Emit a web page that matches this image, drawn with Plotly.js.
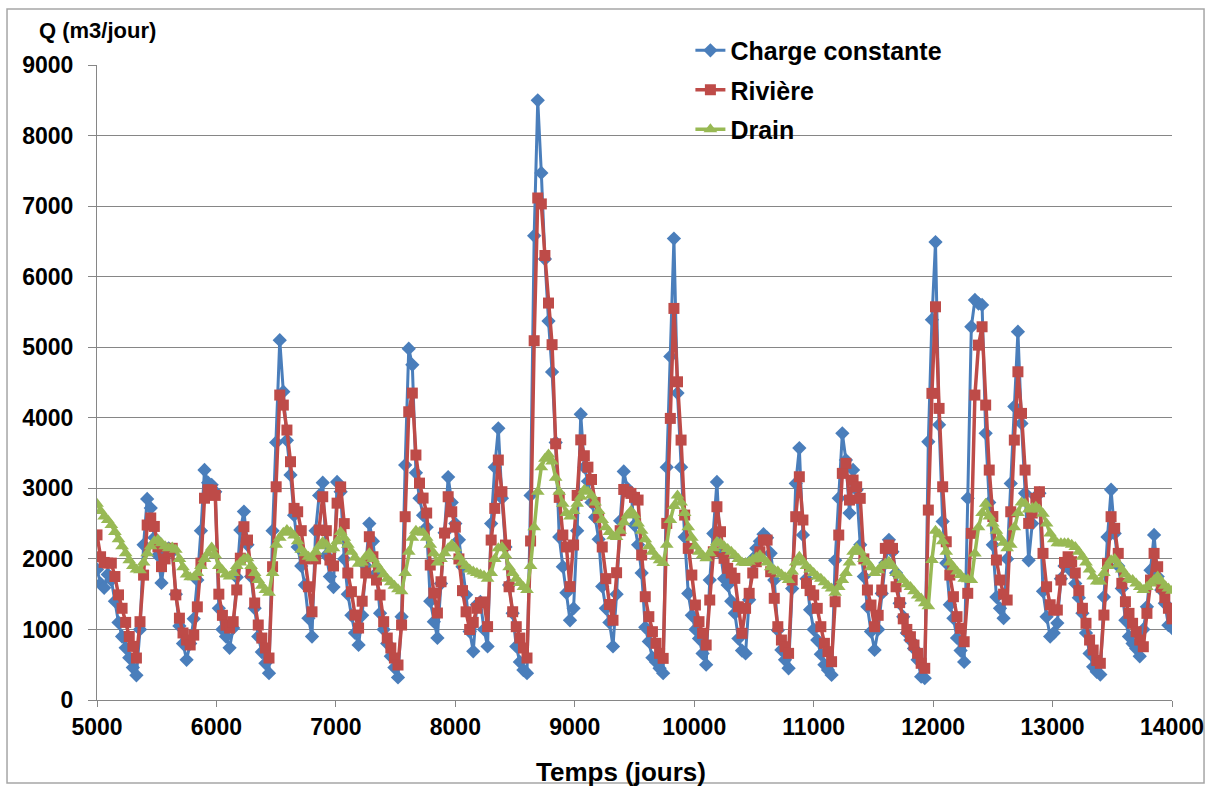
<!DOCTYPE html>
<html><head><meta charset="utf-8">
<script src="https://cdn.plot.ly/plotly-3.0.1.min.js"></script>
<style>html,body{margin:0;padding:0;background:#fff}#chart{width:1212px;height:791px}</style>
</head><body><div id="chart"></div><script>
const days = [
5000,5030,5060,5090,5120,5150,5180,5210,5240,5270,
5300,5330,5360,5390,5420,5450,5480,5510,5540,5570,
5600,5630,5660,5690,5720,5750,5780,5810,5840,5870,
5900,5930,5960,5990,6020,6050,6080,6110,6140,6170,
6200,6230,6260,6290,6320,6350,6380,6410,6440,6470,
6500,6530,6560,6590,6620,6650,6680,6710,6740,6770,
6800,6830,6860,6890,6920,6950,6980,7010,7040,7070,
7100,7130,7160,7190,7220,7250,7280,7310,7340,7370,
7400,7430,7460,7490,7520,7550,7580,7610,7640,7670,
7700,7730,7760,7790,7820,7850,7880,7910,7940,7970,
8000,8030,8060,8090,8120,8150,8180,8210,8240,8270,
8300,8330,8360,8390,8420,8450,8480,8510,8540,8570,
8600,8630,8660,8690,8720,8750,8780,8810,8840,8870,
8900,8930,8960,8990,9020,9050,9080,9110,9140,9170,
9200,9230,9260,9290,9320,9350,9380,9410,9440,9470,
9500,9530,9560,9590,9620,9650,9680,9710,9740,9770,
9800,9830,9860,9890,9920,9950,9980,10010,10040,10070,
10100,10130,10160,10190,10220,10250,10280,10310,10340,10370,
10400,10430,10460,10490,10520,10550,10580,10610,10640,10670,
10700,10730,10760,10790,10820,10850,10880,10910,10940,10970,
11000,11030,11060,11090,11120,11150,11180,11210,11240,11270,
11300,11330,11360,11390,11420,11450,11480,11510,11540,11570,
11600,11630,11660,11690,11720,11750,11780,11810,11840,11870,
11900,11930,11960,11990,12020,12050,12080,12110,12140,12170,
12200,12230,12260,12290,12320,12350,12380,12410,12440,12470,
12500,12530,12560,12590,12620,12650,12680,12710,12740,12770,
12800,12830,12860,12890,12920,12950,12980,13010,13040,13070,
13100,13130,13160,13190,13220,13250,13280,13310,13340,13370,
13400,13430,13460,13490,13520,13550,13580,13610,13640,13670,
13700,13730,13760,13790,13820,13850,13880,13910,13940,13970,
14000];

const chargeConstante = [
1850,1650,1590,1780,1700,1400,1100,900,740,600,
460,350,1000,2200,2850,2720,2300,2050,1660,2050,
2150,2100,1500,1050,800,570,800,1150,1700,2400,
3260,3080,3050,2950,1300,1000,900,740,1020,1740,
2410,2670,2200,1750,1300,900,680,520,380,2400,
3650,5100,4370,3680,3190,2620,2170,1900,1630,1160,
900,2400,2900,3080,2050,1750,1600,3090,2950,2000,
1500,1200,950,780,1200,1900,2500,2250,1800,1230,
1000,800,620,460,320,1180,3330,4980,4750,3220,
2860,2620,2450,1400,1110,880,1650,2370,3160,2800,
2500,2270,1890,1490,970,690,1350,1390,1000,760,
2500,3300,3850,2860,2170,1630,1230,760,540,425,
380,2900,6580,8500,7470,6250,5370,4650,3650,2310,
1890,1520,1130,1300,2400,4050,3300,3100,2800,2590,
2280,1610,1300,1100,760,1500,2540,3240,3000,2930,
2480,2200,1800,1030,830,600,540,450,380,3300,
4870,6540,4350,3300,2310,1510,1200,1000,870,660,
500,1700,2360,3090,2080,1720,1630,1400,1230,870,
700,660,1420,2000,2150,2250,2350,2300,2080,1700,
990,710,570,450,1580,3070,3570,2340,1720,1280,
1000,850,650,500,425,355,1980,2860,3780,3400,
2650,3260,2980,2200,1750,1320,970,710,1000,1510,
1940,2270,2100,1800,1370,1180,950,850,730,570,
330,310,3660,5390,6490,3900,2530,1940,1350,1160,
880,700,540,2860,5290,5670,5620,5600,3780,2800,
2200,1460,1300,1160,2000,3070,4160,5220,3920,2930,
1980,2500,2880,2930,1540,1180,900,950,1090,1720,
1900,1980,1820,1650,1450,1230,950,660,470,400,
360,1460,2310,2980,2360,1900,1580,1130,900,800,
730,620,1000,1320,1840,2340,1750,1560,1370,1060,
1020];

const riviere = [
2340,2030,1950,1940,1940,1750,1490,1300,1100,900,
760,595,1110,1770,2480,2580,2460,2170,1890,2000,
2100,2150,1490,1160,950,850,780,920,1320,1940,
2860,2980,2975,2900,1500,1200,1060,1020,1110,1560,
2010,2456,2267,1800,1375,1063,878,737,595,1889,
3022,4322,4180,3826,3377,2716,2668,2400,2000,1605,
1250,2000,2409,2881,2400,1984,1900,2790,3020,2500,
1800,1535,1204,1020,1400,1800,2314,2030,1700,1488,
1110,878,737,595,496,1063,2598,4085,4350,3472,
3074,2862,2650,1913,1516,1233,1676,2366,2881,2668,
2450,2000,1550,1250,1000,1100,1300,1380,1390,1040,
2267,2716,3401,2952,2196,1605,1251,1039,878,737,
595,2254,5092,7115,7031,6300,5626,5036,3631,2872,
2338,2169,1607,2197,2900,3687,3462,3300,3125,2800,
2591,2169,1720,1354,1130,1804,2400,2984,2950,2928,
2872,2834,2055,1464,1181,968,803,661,590,2503,
3991,5550,4510,3684,2621,2149,1771,1346,1110,945,
779,1417,2101,2739,2385,2008,1866,1800,1724,1322,
945,1299,1512,1800,1960,2101,2267,2267,1818,1441,
1039,850,755,661,1700,2598,3164,2551,1653,1550,
1488,1299,1039,803,685,543,1393,2338,3212,3354,
2834,3117,3022,2858,2000,1559,1346,1039,1200,1559,
2149,2196,2149,1605,1380,1150,1000,897,779,661,
520,449,2692,4346,5573,4133,3022,2243,1771,1464,
1181,1016,826,1512,2362,4322,5030,5290,4180,3259,
2600,1984,1700,1500,1417,2668,3684,4652,4062,3259,
2503,2650,2858,2952,2078,1605,1350,1275,1275,1700,
1950,2030,1960,1800,1550,1300,1087,850,708,560,
520,1204,1937,2598,2433,2078,1653,1393,1228,1087,
968,850,755,1228,1700,2078,1889,1600,1450,1300,
1150];

const drain = [
2780,2680,2600,2550,2480,2380,2280,2180,2080,1980,
1900,1850,1840,1950,2080,2180,2250,2270,2220,2180,
2150,2160,2130,2000,1880,1780,1740,1740,1800,1900,
2000,2080,2160,2050,1900,1840,1780,1750,1800,1900,
1950,2000,2010,1900,1800,1700,1620,1560,1520,1800,
2200,2300,2370,2410,2380,2330,2250,2130,2080,2030,
2010,2100,2180,2240,2200,2130,2150,2250,2380,2300,
2200,2100,2020,1930,1950,2030,2080,2000,1920,1850,
1780,1720,1670,1620,1570,1540,1800,2100,2300,2400,
2380,2370,2300,2200,2080,1950,2000,2080,2150,2200,
2150,2030,1950,1900,1850,1820,1800,1780,1760,1720,
1800,2000,2150,2170,2050,1880,1800,1720,1660,1600,
1560,1900,2450,2950,3300,3420,3480,3380,3150,2950,
2780,2650,2600,2680,2780,2880,2980,2950,2900,2800,
2680,2550,2450,2380,2320,2310,2400,2520,2620,2680,
2620,2500,2400,2280,2180,2100,2030,1980,1940,2200,
2550,2750,2900,2800,2650,2450,2300,2180,2100,2050,
2010,2080,2150,2240,2220,2180,2140,2100,2050,2000,
1950,1940,1960,1990,2020,2050,2000,1950,1880,1840,
1820,1780,1740,1700,1820,1950,2030,1960,1900,1850,
1800,1750,1720,1670,1620,1580,1520,1600,1700,1800,
1950,2100,2150,2100,2000,1950,1880,1800,1840,1900,
1930,1960,1900,1800,1760,1700,1640,1600,1540,1480,
1440,1370,1330,1984,2400,2350,2250,2100,1950,1880,
1820,1770,1720,1710,1700,2078,2450,2650,2780,2600,
2500,2400,2300,2230,2150,2200,2450,2650,2800,2780,
2700,2720,2740,2700,2640,2500,2360,2280,2220,2220,
2220,2220,2200,2170,2100,2030,1950,1850,1750,1680,
1680,1800,1900,1980,2000,1920,1850,1780,1720,1700,
1650,1600,1560,1600,1650,1700,1750,1680,1620,1580,
1550];

const seriesNames = ['Charge constante', 'Rivière', 'Drain'];
const xTickVals = [5000,6000,7000,8000,9000,10000,11000,12000,13000,14000];
const yTickVals = [0,1000,2000,3000,4000,5000,6000,7000,8000,9000];

const FONT = 'Liberation Sans, Arial, sans-serif';
const boldFont = (size) => ({family: FONT, size: size, color: '#000000', weight: 'bold'});

const traces = [
  {x: days, y: chargeConstante, name: seriesNames[0], type: 'scatter', mode: 'lines+markers',
   line: {color: '#4A7EBB', width: 3}, marker: {symbol: 'diamond', size: 11, color: '#4A7EBB'}, legendgroup: 'a'},
  {x: days, y: riviere, name: seriesNames[1], type: 'scatter', mode: 'lines+markers',
   line: {color: '#BE4B48', width: 3.5}, marker: {symbol: 'square', size: 11, color: '#BE4B48'}, legendgroup: 'b'},
  {x: days, y: drain, name: seriesNames[2], type: 'scatter', mode: 'lines+markers',
   line: {color: '#98B954', width: 3.5}, marker: {symbol: 'triangle-up', size: 12, color: '#98B954'}, legendgroup: 'c'}
];

const layout = {
  width: 1212, height: 791,
  paper_bgcolor: '#ffffff', plot_bgcolor: '#ffffff',
  margin: {l: 97, r: 40, t: 65, b: 91},
  showlegend: true,
  legend: {x: 0.552, y: 1.059, xanchor: 'left', yanchor: 'top', font: boldFont(25),
           bgcolor: 'rgba(0,0,0,0)', borderwidth: 0, tracegroupgap: 4, itemwidth: 30},
  xaxis: {range: [5000, 14000], tickvals: xTickVals, ticktext: xTickVals.map(String),
          showgrid: false, zeroline: false, showline: true, linecolor: '#868686', linewidth: 1,
          ticks: 'outside', ticklen: 6, tickcolor: '#868686', tickfont: boldFont(23)},
  yaxis: {range: [0, 9000], tickvals: yTickVals, ticktext: yTickVals.map(String),
          showgrid: true, gridcolor: '#868686', gridwidth: 1, zeroline: false,
          showline: true, linecolor: '#868686', linewidth: 1,
          ticks: 'outside', ticklen: 8, tickcolor: '#868686', tickfont: boldFont(23),
          ticklabelstandoff: 10},
  annotations: [
    {text: 'Q (m3/jour)', xref: 'paper', yref: 'paper', x: -0.056, y: 1.055,
     xanchor: 'left', yanchor: 'middle', showarrow: false, font: boldFont(22)},
    {text: 'Temps (jours)', xref: 'paper', yref: 'paper', x: 0.4874, y: -0.113,
     xanchor: 'center', yanchor: 'middle', showarrow: false, font: boldFont(26)}
  ],
  shapes: [
    {type: 'rect', xref: 'paper', yref: 'paper', x0: -0.0837, x1: 1.0298, y0: -0.1307, y1: 1.0882,
     line: {color: '#A6A6A6', width: 1.5}, fillcolor: 'rgba(0,0,0,0)', layer: 'below'}
  ]
};

Plotly.newPlot('chart', traces, layout, {displayModeBar: false, staticPlot: true});
</script></body></html>
